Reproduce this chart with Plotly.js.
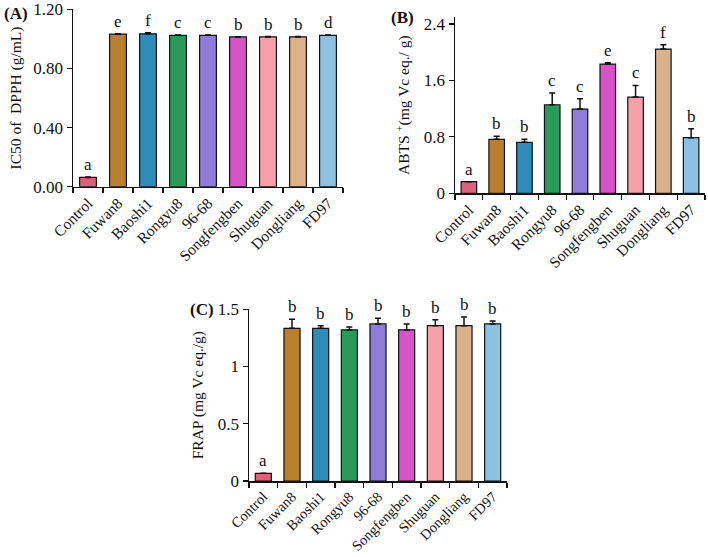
<!DOCTYPE html>
<html>
<head>
<meta charset="utf-8">
<script src="https://cdn.plot.ly/plotly-3.0.1.min.js"></script>
<style>html,body{margin:0;padding:0;background:#fff;}#chart{width:708px;height:557px;}</style>
</head>
<body>
<div id="chart"></div>
<script>
const categories = ["Control","Fuwan8","Baoshi1","Rongyu8","96-68","Songfengben","Shuguan","Dongliang","FD97"];
const colors = ["#d9637a","#b8802c","#2e8cb8","#2a9a5a","#8f7bd8","#d754c8","#f7a0aa","#dcb088","#8cc0e0"];

const dpphValues = [0.063, 1.032, 1.034, 1.024, 1.024, 1.013, 1.013, 1.013, 1.024];
const dpphErrors = [0.002, 0.003, 0.008, 0.003, 0.003, 0.002, 0.003, 0.003, 0.003];
const dpphLetters = ["a","e","f","c","c","b","b","b","d"];

const abtsValues = [0.165, 0.765, 0.723, 1.256, 1.195, 1.833, 1.365, 2.045, 0.789];
const abtsErrors = [0.0, 0.045, 0.042, 0.165, 0.147, 0.02, 0.165, 0.062, 0.127];
const abtsLetters = ["a","b","b","c","c","e","c","f","b"];

const frapValues = [0.067, 1.334, 1.334, 1.320, 1.372, 1.320, 1.357, 1.357, 1.372];
const frapErrors = [0.0, 0.079, 0.023, 0.026, 0.05, 0.052, 0.052, 0.076, 0.026];
const frapLetters = ["a","b","b","b","b","b","b","b","b"];

const FONT = "Liberation Serif, Times New Roman, serif";

function barTrace(vals, errs, xa, ya) {
  return {
    type: "bar", x: categories, y: vals, xaxis: xa, yaxis: ya,
    width: 0.56,
    marker: {color: colors, line: {color: "#111", width: 1.2}},
    error_y: {type: "data", symmetric: false, array: errs, arrayminus: errs.map(() => 0),
              color: "#111", thickness: 1.5, width: 3},
    showlegend: false, hoverinfo: "skip"
  };
}

function letterAnns(vals, errs, letters, xref, yref) {
  return categories.map((c, i) => ({
    x: c, y: vals[i] + errs[i], xref: xref, yref: yref,
    text: letters[i], showarrow: false, yanchor: "bottom", yshift: 1,
    font: {family: FONT, size: 17, color: "#111"}
  }));
}

function xAxis(domain, anchor, fs) {
  return {
    domain: domain, anchor: anchor, type: "category",
    showline: true, linecolor: "#111", linewidth: 1.5,
    ticks: "outside", tickson: "boundaries", ticklen: 5, tickcolor: "#111", tickwidth: 1.2,
    tickangle: -45, tickfont: {family: FONT, size: fs, color: "#111"},
    showgrid: false, zeroline: false, fixedrange: true
  };
}

function yAxis(domain, anchor, range, dtick, fmt, title, standoff) {
  const a = {
    domain: domain, anchor: anchor, range: range, dtick: dtick, tick0: 0,
    showline: true, linecolor: "#111", linewidth: 1.5,
    ticks: "outside", ticklen: 5, tickcolor: "#111", tickwidth: 1.2,
    tickfont: {family: FONT, size: 17, color: "#111"},
    showgrid: false, zeroline: false, fixedrange: true,
    title: {text: title, font: {family: FONT, size: 15.5, color: "#111"}, standoff: standoff}
  };
  if (fmt) a.tickformat = fmt;
  return a;
}

const data = [
  barTrace(dpphValues, dpphErrors, "x", "y"),
  barTrace(abtsValues, abtsErrors, "x2", "y2"),
  barTrace(frapValues, frapErrors, "x3", "y3")
];

const panelAnns = [
  {text: "<b>(A)</b>", x: 2/708, y: 1 - 13/557},
  {text: "<b>(B)</b>", x: 389/708, y: 1 - 18/557},
  {text: "<b>(C)</b>", x: 188/708, y: 1 - 309/557}
].map(a => Object.assign(a, {xref: "paper", yref: "paper", xanchor: "left", yanchor: "middle",
  showarrow: false, font: {family: FONT, size: 17, color: "#111"}}));

const layout = {
  width: 708, height: 557,
  margin: {l: 0, r: 0, t: 0, b: 0},
  paper_bgcolor: "#fff", plot_bgcolor: "#fff",
  bargap: 0.44,
  font: {family: FONT, color: "#111"},
  xaxis: xAxis([73/708, 343/708], "y", 15.5),
  yaxis: yAxis([1 - 186.7/557, 1 - 9.3/557], "x", [0, 1.2], 0.4, ".2f", "IC50 of  DPPH (g/mL)", 8),
  xaxis2: xAxis([455/708, 705/708], "y2", 15.5),
  yaxis2: yAxis([1 - 193.3/557, 1 - 17/557], "x2", [0, 2.5], 0.8, null, "ABTS <sup>+</sup>(mg Vc eq./ g)", 10),
  xaxis3: xAxis([249/708, 507/708], "y3", 14.5),
  yaxis3: yAxis([1 - 481/557, 1 - 309.3/557], "x3", [0, 1.5], 0.5, null, "FRAP (mg Vc eq./g)", 10),
  annotations: [].concat(
    letterAnns(dpphValues, dpphErrors, dpphLetters, "x", "y"),
    letterAnns(abtsValues, abtsErrors, abtsLetters, "x2", "y2"),
    letterAnns(frapValues, frapErrors, frapLetters, "x3", "y3"),
    panelAnns
  )
};

Plotly.newPlot("chart", data, layout, {displayModeBar: false, staticPlot: true});
</script>
</body>
</html>
